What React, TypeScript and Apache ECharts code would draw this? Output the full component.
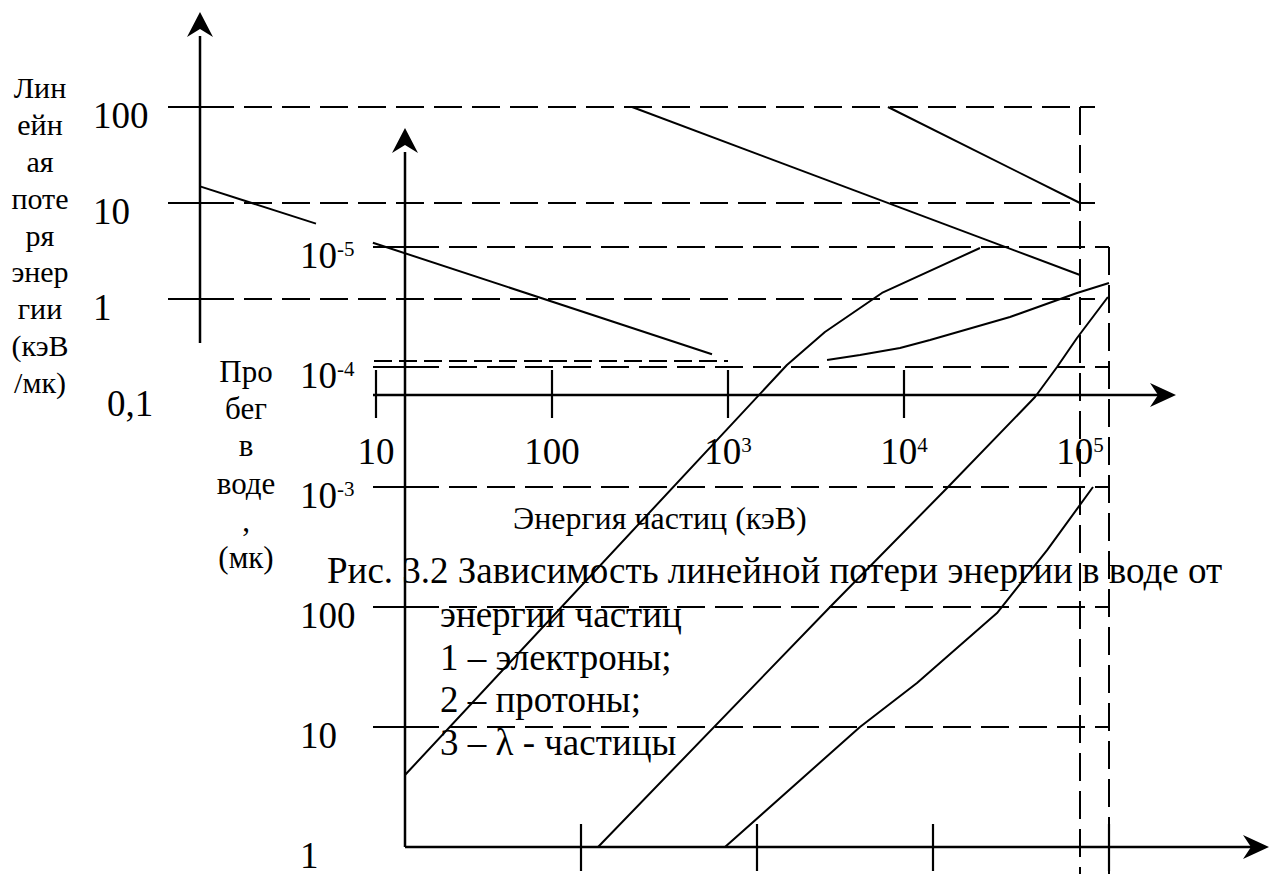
import React, { useEffect, useRef } from 'react';
import * as echarts from 'echarts';

const FONT = 'Liberation Serif';

// ---------- Chart 1: linear energy loss in water (keV/µm) vs particle energy (keV) ----------
const energyTicksTop = [10, 100, 1000, 10000, 100000];
const energyTickLabelsTop = ['10', '100', '10^3', '10^4', '10^5'];
const letTicks = [0.1, 1, 10, 100];
const letTickLabels = ['0,1', '1', '10', '100'];
const letGridValues = [1, 10, 100];
const letElectronA = [[1, 14.9], [4.56, 6.1]];
const letElectronB = [[9.6, 3.86], [811, 0.266]];
const letProton = [[285, 100], [100000, 1.78]];
const letAlpha = [[8110, 100], [100000, 10]];

// ---------- Chart 2: range in water (µm) vs particle energy (keV) ----------
const rangeTicks = [1, 10, 100, 1000, 10000, 100000];
const rangeTickLabels = ['1', '10', '100', '10^-3', '10^-4', '10^-5'];
const rangeGridValues = [10, 100, 1000, 10000, 100000];
const energyTicksBottom = [100, 1000, 10000, 100000];
const rangeElectron = [[10, 3.98], [1479, 10390], [2432, 19580], [5128, 41400], [18490, 98100]];
const rangeProton = [[125, 1], [2600, 100], [12020, 981], [38000, 5623], [50700, 10000], [65800, 17450], [98600, 38300]];
const rangeAlpha = [[658, 1], [3846, 10], [8110, 23.3], [23100, 89], [44500, 298], [81100, 1000]];
const rangeUpper = [[2500, 11430], [3846, 12590], [6494, 14400], [9620, 16800], [27380, 26100], [65800, 41400], [100000, 50100]];

// ---------- Texts ----------
const leftTitle1 = ['Лин', 'ейн', 'ая', 'поте', 'ря', 'энер', 'гии', '(кэВ', '/мк)'];
const leftTitle2 = ['Про', 'бег', 'в', 'воде', ',', '(мк)'];
const xTitle = 'Энергия частиц (кэВ)';
const captionFirst = 'Рис. 3.2 Зависимость линейной потери энергии в воде от';
const captionRest = ['энергии частиц', '1 – электроны;', '2 – протоны;', '3 – λ - частицы'];

function makeFormatter(ticks: number[], labels: string[], firstStyle?: string) {
  return (v: number) => {
    const i = ticks.findIndex((t) => Math.abs(Math.log10(t) - Math.log10(v)) < 1e-6);
    if (i < 0) return '';
    const l = labels[i];
    if (l.includes('^')) {
      const [b, s] = l.split('^');
      return `{b|${b}}{s|${s}}`;
    }
    if (i === 0 && firstStyle) return `{${firstStyle}|${l}}`;
    return `{b|${l}}`;
  };
}

const rich = {
  b: { fontSize: 37, fontFamily: FONT, color: '#000', lineHeight: 40 },
  s: { fontSize: 21, fontFamily: FONT, color: '#000', verticalAlign: 'top', lineHeight: 21, padding: [3, 0, 0, 0] },
  z: { fontSize: 37, fontFamily: FONT, color: '#000', lineHeight: 40, padding: [0, 0, 0, 14] },
};

const curve = (g: number, data: number[][], name: string) => ({
  name,
  type: 'line',
  xAxisIndex: g,
  yAxisIndex: g,
  data,
  symbol: 'none',
  clip: false,
  silent: true,
  z: 5,
  lineStyle: { color: '#000', width: 2 },
});

export default function App() {
  const ref = useRef<HTMLDivElement>(null);
  useEffect(() => {
    const el = ref.current!;
    const chart = echarts.init(el, null, { renderer: 'svg' });
    const hidden = { axisLine: { show: false }, axisTick: { show: false }, splitLine: { show: false }, minorTick: { show: false } };
    chart.setOption({
      animation: false,
      backgroundColor: '#fff',
      textStyle: { fontFamily: FONT },
      grid: [
        { left: 200, top: 107, width: 880, height: 288, containLabel: false, outerBoundsMode: 'none' },
        { left: 405, top: 247, width: 704, height: 600, containLabel: false, outerBoundsMode: 'none' },
      ],
      xAxis: [
        {
          type: 'log', logBase: 10, gridIndex: 0, min: 1, max: 100000, ...hidden,
          axisLabel: { formatter: makeFormatter(energyTicksTop, energyTickLabelsTop), rich, margin: 36, fontFamily: FONT },
        },
        { type: 'log', logBase: 10, gridIndex: 1, min: 10, max: 100000, ...hidden, axisLabel: { show: false } },
      ],
      yAxis: [
        {
          type: 'log', logBase: 10, gridIndex: 0, min: 0.1, max: 100, ...hidden,
          axisLabel: { formatter: makeFormatter(letTicks, letTickLabels, 'z'), rich, margin: 107, align: 'left', padding: [16, 0, 0, 0], fontFamily: FONT },
        },
        {
          type: 'log', logBase: 10, gridIndex: 1, min: 1, max: 100000, ...hidden,
          axisLabel: { formatter: makeFormatter(rangeTicks, rangeTickLabels), rich, margin: 105, align: 'left', padding: [16, 0, 0, 0], fontFamily: FONT },
        },
      ],
      series: [
        curve(0, letElectronA, 'LET electrons a'),
        curve(0, letElectronB, 'LET electrons b'),
        curve(0, letProton, 'LET protons'),
        curve(0, letAlpha, 'LET alpha'),
        curve(1, rangeElectron, 'Range electrons'),
        curve(1, rangeProton, 'Range protons'),
        curve(1, rangeAlpha, 'Range alpha'),
        curve(1, rangeUpper, 'Range upper'),
      ],
    });

    const p1 = (x: number, y: number) => chart.convertToPixel({ gridIndex: 0 }, [x, y]) as number[];
    const p2 = (x: number, y: number) => chart.convertToPixel({ gridIndex: 1 }, [x, y]) as number[];
    const g: any[] = [];
    const line = (x1: number, y1: number, x2: number, y2: number, w = 2, dash?: number[]) =>
      g.push({
        type: 'line', silent: true, z: 4,
        shape: { x1, y1, x2, y2 },
        style: { stroke: '#000', lineWidth: w, lineDash: dash || null, fill: null },
      });
    const arrow = (pts: number[][]) => g.push({ type: 'polygon', silent: true, z: 6, shape: { points: pts }, style: { fill: '#000' } });
    const text = (t: string, x: number, baseline: number, size: number, align: string) =>
      g.push({
        type: 'text', silent: true, z: 7, x, y: baseline - 0.3375 * size,
        style: { text: t, fontSize: size, fontFamily: FONT, fill: '#000', align, textAlign: align, verticalAlign: 'middle', textVerticalAlign: 'middle' },
      });

    const DASH = [28, 10];
    // Chart 1 frame
    const ax1X = p1(1, 1)[0];
    const ax1Y = p1(1, 0.1)[1];
    letGridValues.forEach((v) => {
      const y = p1(1, v)[1];
      line(168, y, 1095, y, 2, DASH);
      line(168, y, 215, y, 2.2);
    });
    const x1e5 = p1(100000, 1)[0];
    line(x1e5, p1(1, 100)[1], x1e5, 874, 2, DASH);
    line(ax1X, 36, ax1X, 343, 2.5);
    arrow([[ax1X, 12], [ax1X + 13, 37], [ax1X, 29], [ax1X - 13, 37]]);
    line(373, ax1Y, 1160, ax1Y, 2.5);
    arrow([[1176, ax1Y], [1150, ax1Y - 12], [1158, ax1Y], [1150, ax1Y + 12]]);
    energyTicksTop.slice(0, 4).forEach((e) => {
      const x = p1(e, 1)[0];
      line(x, ax1Y - 25, x, ax1Y + 23, 2.2);
    });
    line(p1(10, 1)[0] - 2, ax1Y - 34, p1(1000, 1)[0], ax1Y - 34, 2, [18, 7]);

    // Chart 2 frame
    const ax2X = p2(10, 1)[0];
    const ax2Y = p2(10, 1)[1];
    const x2e5 = p2(100000, 1)[0];
    rangeGridValues.forEach((v) => {
      const y = p2(10, v)[1];
      line(373, y, x2e5, y, 2, DASH);
      line(373, y, 421, y, 2.2);
    });
    line(x2e5, p2(10, 100000)[1], x2e5, 874, 2, DASH);
    line(ax2X, 152, ax2X, ax2Y, 2.5);
    arrow([[ax2X, 128], [ax2X + 13, 153], [ax2X, 145], [ax2X - 13, 153]]);
    line(ax2X, ax2Y, 1252, ax2Y, 2.5);
    arrow([[1269, ax2Y], [1243, ax2Y - 12], [1251, ax2Y], [1243, ax2Y + 12]]);
    energyTicksBottom.forEach((e) => {
      const x = p2(e, 1)[0];
      line(x, ax2Y - 23, x, ax2Y + 24, 2.2);
    });

    // Titles
    leftTitle1.forEach((t, i) => text(t, 40, 98 + i * 36.8, 30, 'center'));
    leftTitle2.forEach((t, i) => text(t, 246, 382 + i * 37.2, 31, 'center'));
    text(xTitle, 513, 529, 32, 'left');
    text(captionFirst, 327, 583, 37, 'left');
    captionRest.forEach((t, i) => text(t, 440, 627 + i * 42.5, 37, 'left'));

    chart.setOption({ graphic: { elements: g } });
    return () => chart.dispose();
  }, []);
  return (
    <div
      ref={ref}
      style={{ position: 'absolute', left: 0, top: 0, width: 1282, height: 874, background: '#fff' }}
    />
  );
}
